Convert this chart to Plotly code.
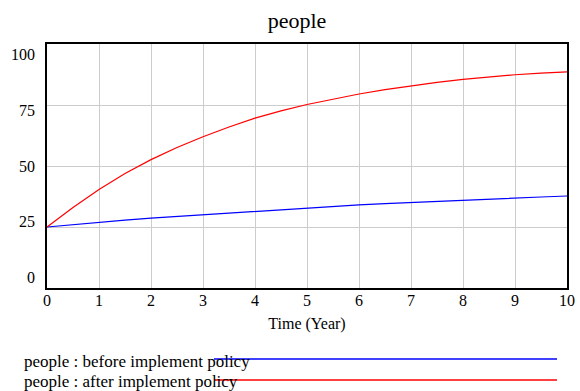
import plotly.graph_objects as go

# Simulation time (years) and model output for the stock "people"
time_years = [0, 0.5, 1, 1.5, 2, 2.5, 3, 3.5, 4, 4.5, 5, 5.5, 6, 6.5, 7, 7.5, 8, 8.5, 9, 9.5, 10]
before_policy = [25, 26.0, 26.9, 27.8, 28.6, 29.3, 30.1, 30.8, 31.5, 32.2, 32.9, 33.5,
                 34.1, 34.6, 35.1, 35.6, 36.1, 36.5, 36.9, 37.3, 37.7]
after_policy = [25, 33.0, 40.4, 46.9, 52.6, 57.6, 62.0, 66.0, 69.6, 72.6, 75.2, 77.5,
                79.5, 81.3, 82.9, 84.3, 85.5, 86.5, 87.4, 88.1, 88.6]

series_names = ["people : before implement policy", "people : after implement policy"]
series_colors = ["#0000ff", "#ff0000"]
x_ticks = list(range(0, 11))
y_ticks = [0, 25, 50, 75, 100]

FONT = "Liberation Serif"

W, H = 580, 391
L, R, T, B = 47, 13, 44, 103
plot_w = W - L - R
plot_h = H - T - B

fig = go.Figure()
for name, vals, col in zip(series_names, [before_policy, after_policy], series_colors):
    fig.add_trace(go.Scatter(x=time_years, y=vals, mode="lines", name=name,
                             line=dict(color=col, width=1.2), showlegend=False))

# invisible trace anchoring the label axis
fig.add_trace(go.Scatter(x=[0], y=[0], yaxis="y2", mode="markers",
                         marker=dict(opacity=0), showlegend=False, hoverinfo="skip"))

fig.update_layout(
    width=W, height=H,
    margin=dict(l=L, r=R, t=T, b=B, autoexpand=False),
    paper_bgcolor="white", plot_bgcolor="white",
    font=dict(family=FONT, size=16, color="black"),
    title=dict(text="people", x=297 / W, xref="container", xanchor="center",
               y=1 - 20 / H, yref="container", yanchor="middle",
               font=dict(family=FONT, size=22, color="black")),
    xaxis=dict(range=[0, 10], tickvals=x_ticks, showgrid=True, gridcolor="#cccccc",
               gridwidth=1, zeroline=False, showline=True, linecolor="black",
               linewidth=2, mirror=True, ticks="", ticklabelstandoff=-3,
               automargin=False,
               tickfont=dict(family=FONT, size=16),
               title=dict(text="Time (Year)", standoff=10,
                          font=dict(family=FONT, size=16))),
    yaxis=dict(range=[0, 100], tickvals=y_ticks, showgrid=True, gridcolor="#cccccc",
               gridwidth=1, zeroline=False, showline=True, linecolor="black",
               linewidth=2, mirror=True, showticklabels=False, ticks="",
               automargin=False),
    yaxis2=dict(range=[-4.9, 104.9], tickvals=y_ticks, overlaying="y", side="left",
                showgrid=False, zeroline=False, showline=False, ticks="",
                automargin=False,
                ticklabelstandoff=11, tickfont=dict(family=FONT, size=16)),
)

# legend rows beneath the chart: label followed by a long line sample
legend_rows = [(361, 359), (381, 380)]
for name, col, (ty, ly) in zip(series_names, series_colors, legend_rows):
    fig.add_annotation(text=name, xref="paper", yref="paper",
                       x=(22 - L) / plot_w, y=(H - B - ty) / plot_h,
                       xanchor="left", yanchor="middle", showarrow=False,
                       font=dict(family=FONT, size=17, color="black"))
    fig.add_shape(type="line", xref="paper", yref="paper",
                  x0=(214 - L) / plot_w, x1=(557 - L) / plot_w,
                  y0=(H - B - ly) / plot_h, y1=(H - B - ly) / plot_h,
                  line=dict(color=col, width=1.5))

fig.write_html("out.html")
